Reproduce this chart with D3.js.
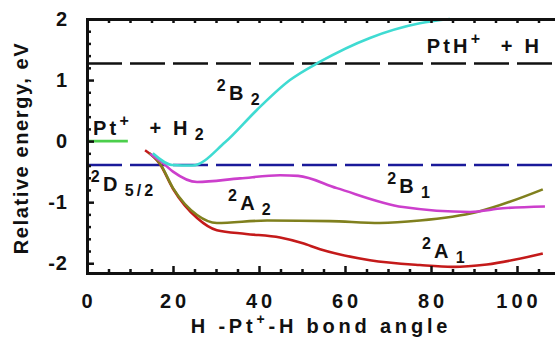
<!DOCTYPE html>
<html><head><meta charset="utf-8">
<script src="https://cdn.jsdelivr.net/npm/d3@7"></script>
<style>
html,body{margin:0;padding:0;background:#fff;}
text{font-family:"Liberation Sans",Arial,sans-serif;font-weight:bold;fill:#111;}
</style></head>
<body><svg id="c" width="555" height="337"></svg>
<script>
// ---- data ----
const xTicks = [0, 20, 40, 60, 80, 100];
const yTicks = [-2, -1, 0, 1, 2];
const b2X = [15.3, 19.8, 24.5, 32.1, 39.5, 47.2, 54.2, 65.8, 77.4, 84.4];
const b2Y = [-0.20, -0.39, -0.40, -0.02, 0.51, 1.00, 1.30, 1.69, 1.93, 2.00];
const b1X = [14.7, 17.5, 20.0, 25.6, 35.6, 44.9, 49.1, 58.1, 73.5, 89.1, 96.7, 106.5];
const b1Y = [-0.21, -0.35, -0.50, -0.67, -0.61, -0.56, -0.57, -0.77, -1.08, -1.16, -1.10, -1.07];
const a2X = [14.5, 17.0, 20.0, 25.6, 30.2, 41.9, 56.5, 68.1, 77.4, 90.7, 106.0];
const a2Y = [-0.20, -0.37, -0.77, -1.21, -1.34, -1.30, -1.31, -1.34, -1.30, -1.16, -0.79];
const a1X = [13.5, 17.0, 20.0, 25.6, 30.2, 37.0, 44.9, 50.0, 54.2, 65.8, 77.4, 85.1, 93.0, 106.0];
const a1Y = [-0.15, -0.38, -0.78, -1.26, -1.46, -1.52, -1.58, -1.67, -1.77, -1.95, -2.03, -2.06, -2.02, -1.84];
const ptH2X = [0, 9.5];
const ptH2Y = [0, 0];
const pthLevel = 1.27;
const d52Level = -0.39;

const svg = d3.select("#c");
const x = d3.scaleLinear().domain([0, 110]).range([87, 560]);
const y = d3.scaleLinear().domain([-2.16, 2]).range([273, 19]);

// dashed reference levels
svg.append("line").attr("x1", x(0)).attr("x2", x(110)).attr("y1", y(pthLevel)).attr("y2", y(pthLevel))
  .attr("stroke", "#111").attr("stroke-width", 2.6).attr("stroke-dasharray", "35,8");
svg.append("line").attr("x1", x(0)).attr("x2", x(110)).attr("y1", y(d52Level)).attr("y2", y(d52Level))
  .attr("stroke", "#1a1a9a").attr("stroke-width", 2.6).attr("stroke-dasharray", "35,8");

const line = d3.line().x(d => x(d[0])).y(d => y(d[1])).curve(d3.curveMonotoneX);
const series = [
  {xs: ptH2X, ys: ptH2Y, c: "#4ccf4c"},
  {xs: a1X, ys: a1Y, c: "#c41a1a"},
  {xs: a2X, ys: a2Y, c: "#80801e"},
  {xs: b1X, ys: b1Y, c: "#cc3fcc"},
  {xs: b2X, ys: b2Y, c: "#3fdbd2"},
];
series.forEach(s => {
  svg.append("path").datum(s.xs.map((v, i) => [v, s.ys[i]]))
    .attr("d", line).attr("fill", "none").attr("stroke", s.c).attr("stroke-width", 2.6);
});

// axes
const xMinor = d3.range(0, 111, 5);
const yMinor = d3.range(-2.0, 2.001, 0.2).map(v => Math.round(v * 10) / 10);
const xb = svg.append("g").attr("transform", `translate(0,${y(-2.16)})`)
  .call(d3.axisBottom(x).tickValues(xMinor).tickSize(-4).tickFormat(""));
const xt = svg.append("g").attr("transform", `translate(0,${y(2)})`)
  .call(d3.axisTop(x).tickValues(xMinor).tickSize(-4).tickFormat(""));
const yl = svg.append("g").attr("transform", `translate(${x(0)},0)`)
  .call(d3.axisLeft(y).tickValues(yMinor).tickSize(-4).tickFormat(""));
[xb, xt, yl].forEach(g => {
  g.select(".domain").attr("stroke", "#111").attr("stroke-width", 3);
  g.selectAll(".tick line").attr("stroke", "#111").attr("stroke-width", 2.5);
});
xb.selectAll(".tick line").filter(d => d % 20 === 0).attr("y2", -7);
yl.selectAll(".tick line").filter(d => Number.isInteger(d)).attr("x2", 7);

// tick labels
svg.append("g").selectAll("text").data(xTicks).join("text")
  .attr("x", d => x(d) + 2).attr("y", 308).attr("text-anchor", "middle")
  .attr("font-size", 20).attr("letter-spacing", 4).text(d => d);
svg.append("g").selectAll("text").data(yTicks).join("text")
  .attr("x", 68).attr("y", d => y(d) + 7).attr("text-anchor", "end")
  .attr("font-size", 20).attr("letter-spacing", 1).text(d => d);

// axis titles
svg.append("text").attr("transform", `translate(28,148) rotate(-90)`).attr("text-anchor", "middle")
  .attr("font-size", 20).attr("letter-spacing", 1.6).text("Relative energy, eV");
const xt2 = svg.append("text").attr("x", 321).attr("y", 333).attr("text-anchor", "middle")
  .attr("font-size", 20).attr("letter-spacing", 3.8);
xt2.append("tspan").text("H -Pt");
xt2.append("tspan").attr("font-size", 14).attr("dy", -9).text("+");
xt2.append("tspan").attr("dy", 9).text("-H bond angle");

// annotation labels
const labels = [
  {x: 1.4, y: 0.10, parts: [["n", "Pt"], ["sup", "+"], ["n", "  + H"], ["sub", "2"]]},
  {x: 79, y: 1.44, parts: [["n", "PtH"], ["sup", "+"], ["n", "  + H"]]},
  {x: 30.2, y: 0.67, parts: [["sup", "2"], ["n", "B"], ["sub", "2"]]},
  {x: 0.9, y: -0.82, parts: [["sup", "2"], ["n", "D"], ["sub", "5/2"]]},
  {x: 32.8, y: -1.13, parts: [["sup", "2"], ["n", "A"], ["sub", "2"]]},
  {x: 69.8, y: -0.85, parts: [["sup", "2"], ["n", "B"], ["sub", "1"]]},
  {x: 77.9, y: -1.92, parts: [["sup", "2"], ["n", "A"], ["sub", "1"]]},
];
labels.forEach(l => {
  const t = svg.append("text").attr("x", x(l.x)).attr("y", y(l.y)).attr("font-size", 20)
    .attr("letter-spacing", 3.2).attr("xml:space", "preserve").style("white-space", "pre");
  let cur = 0;
  l.parts.forEach(([k, s]) => {
    const target = k === "sup" ? -9 : k === "sub" ? 5 : 0;
    const ts = t.append("tspan").attr("dy", target - cur).text(s);
    if (k !== "n") ts.attr("font-size", 16);
    if (k === "sub") ts.attr("dx", 4);
    cur = target;
  });
});
</script></body></html>
